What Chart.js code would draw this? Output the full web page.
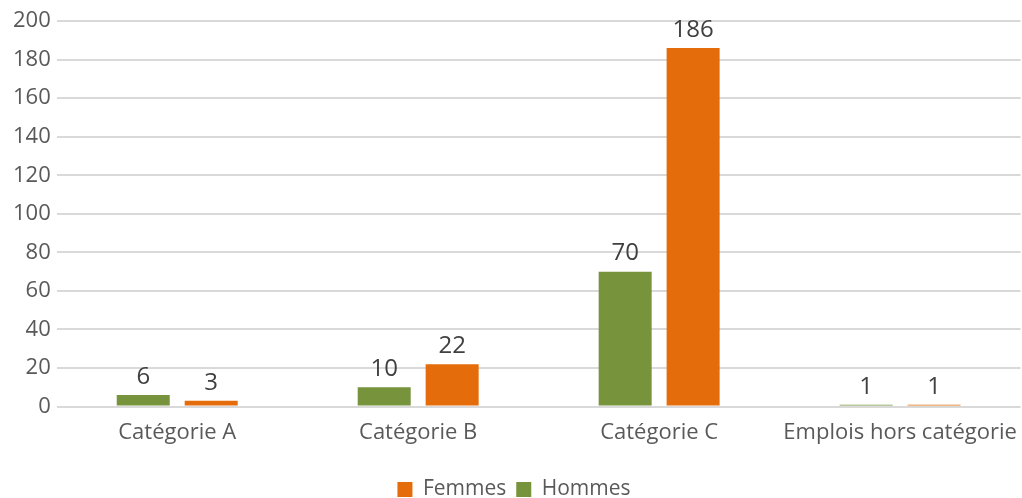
<!DOCTYPE html>
<html lang="fr">
<head>
    <meta charset="UTF-8">
    <title>Effectifs par catégorie</title>
    <script src="https://cdn.jsdelivr.net/npm/chart.js"></script>
    <style>
        html, body { margin: 0; padding: 0; background: #fff; }
        #wrap { width: 1022px; height: 498px; }
    </style>
</head>
<body>
    <div id="wrap"><canvas id="myChart"></canvas></div>

    <script>
        const categories = ['Catégorie A', 'Catégorie B', 'Catégorie C', 'Emplois hors catégorie'];
        const hommes = [6, 10, 70, 1];
        const femmes = [3, 22, 186, 1];
        const yTicks = [0, 20, 40, 60, 80, 100, 120, 140, 160, 180, 200];

        const textColor = '#595959';
        const fontFamily = '"Open Sans", "DejaVu Sans", sans-serif';

        // valeurs au-dessus des barres
        const valueLabelPlugin = {
            id: 'valueLabelPlugin',
            afterDatasetsDraw(chart) {
                const {ctx} = chart;
                ctx.save();
                ctx.font = '24px ' + fontFamily;
                ctx.fillStyle = '#404040';
                ctx.textAlign = 'center';
                ctx.textBaseline = 'bottom';
                chart.data.datasets.forEach((ds, i) => {
                    const meta = chart.getDatasetMeta(i);
                    meta.data.forEach((bar, j) => {
                        ctx.fillText(ds.data[j], bar.x, bar.y - 6);
                    });
                });
                ctx.restore();
            }
        };

        const config = {
            type: 'bar',
            data: {
                labels: categories,
                datasets: [
                    {
                        label: 'Hommes',
                        data: hommes,
                        backgroundColor: '#77933C'
                    },
                    {
                        label: 'Femmes',
                        data: femmes,
                        backgroundColor: '#E46C0A'
                    }
                ]
            },
            options: {
                responsive: true,
                maintainAspectRatio: false,
                animation: false,
                categoryPercentage: 0.564,
                barPercentage: 0.78,
                layout: { padding: { top: 21, right: 1, left: 7, bottom: -12 } },
                scales: {
                    x: {
                        grid: { display: false },
                        border: { display: false },
                        afterFit(scale) {
                            scale.height += 18;
                        },
                        ticks: {
                            color: textColor,
                            font: { family: fontFamily, size: 22 },
                            padding: 5
                        }
                    },
                    y: {
                        min: 0,
                        max: 200,
                        afterBuildTicks(axis) {
                            axis.ticks = yTicks.map(v => ({ value: v }));
                        },
                        grid: { color: '#d9d9d9', lineWidth: 2, drawTicks: false },
                        border: { display: false },
                        ticks: {
                            color: textColor,
                            font: { family: fontFamily, size: 22 },
                            padding: 6
                        }
                    }
                },
                plugins: {
                    legend: {
                        position: 'bottom',
                        reverse: true,
                        labels: {
                            color: textColor,
                            font: { family: fontFamily, size: 21 },
                            boxWidth: 15,
                            boxHeight: 15,
                            padding: 10
                        }
                    },
                    tooltip: { enabled: false }
                }
            },
            plugins: [valueLabelPlugin]
        };

        new Chart(document.getElementById('myChart'), config);
    </script>
</body>
</html>
